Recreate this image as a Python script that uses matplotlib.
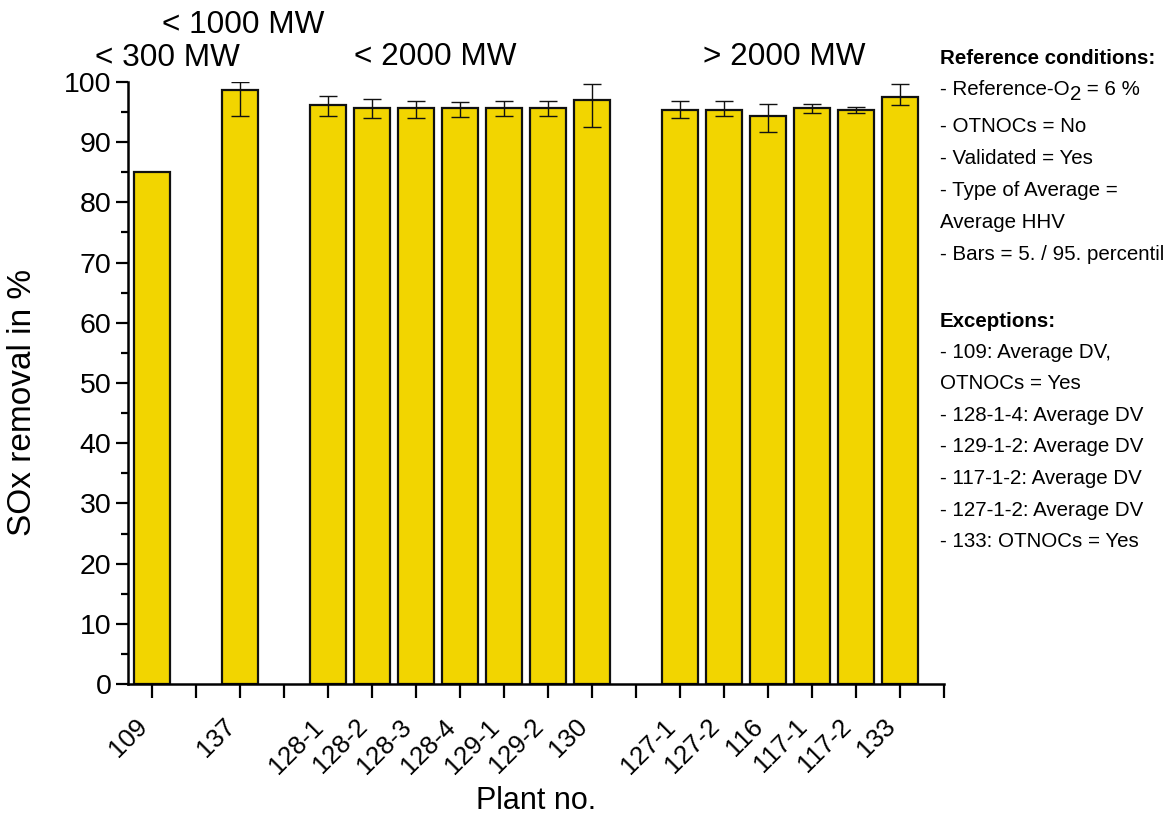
import numpy as np
import matplotlib
matplotlib.use("Agg")
import matplotlib.pyplot as plt

plt.rcParams['font.family'] = ['Liberation Sans', 'DejaVu Sans']

# Plant slots along the x axis (empty strings separate the capacity groups)
plants = ['109', '', '137', '', '128-1', '128-2', '128-3', '128-4', '129-1',
          '129-2', '130', '', '127-1', '127-2', '116', '117-1', '117-2', '133']
# Mean SOx removal in %
removal = [85.0, None, 98.7, None, 96.2, 95.6, 95.6, 95.6, 95.6,
           95.6, 97.0, None, 95.3, 95.4, 94.4, 95.6, 95.3, 97.5]
# 5th / 95th percentile
p05 = [None, None, 94.4, None, 94.3, 94.0, 94.1, 94.2, 94.3,
       94.4, 92.5, None, 94.0, 94.3, 91.7, 94.9, 94.9, 96.1]
p95 = [None, None, 100.0, None, 97.6, 97.1, 96.9, 96.7, 96.8,
       96.8, 99.6, None, 96.8, 96.8, 96.3, 96.3, 95.9, 99.6]

groups = ['< 300 MW', '< 1000 MW', '< 2000 MW', '> 2000 MW']

ref_lines = ['- OTNOCs = No', '- Validated = Yes',
             '- Type of Average =', 'Average HHV', '- Bars = 5. / 95. percentil']
exc_lines = ['- 109: Average DV,', 'OTNOCs = Yes', '- 128-1-4: Average DV',
             '- 129-1-2: Average DV', '- 117-1-2: Average DV',
             '- 127-1-2: Average DV', '- 133: OTNOCs = Yes']

W, H = 1166, 816
fig = plt.figure(figsize=(W / 100, H / 100), dpi=100)
ax = fig.add_axes([128 / W, 1 - 684 / H, (944 - 128) / W, (684 - 82) / H])

yellow = '#F2D500'
idx = [i for i, v in enumerate(removal) if v is not None]
vals = [removal[i] for i in idx]
ax.bar(idx, vals, width=0.82, color=yellow, edgecolor='#111111', linewidth=1.6, zorder=2)

eidx = [i for i in idx if p05[i] is not None]
ev = np.array([removal[i] for i in eidx])
lo = ev - np.array([p05[i] for i in eidx])
hi = np.array([p95[i] for i in eidx]) - ev
ax.errorbar(eidx, ev, yerr=[lo, hi], fmt='none', ecolor='#111111',
            elinewidth=1.0, capsize=6.5, capthick=1.0, zorder=3)

ax.set_xlim(-0.55, 18)
ax.set_ylim(0, 100)
ax.set_xticks(range(19))
ax.set_xticklabels(plants + [''], rotation=45, ha='right', fontsize=18.5)
ax.set_yticks(range(0, 101, 10))
ax.set_yticks(range(5, 100, 10), minor=True)
ax.tick_params(axis='y', labelsize=20.5, length=9, width=1.6, direction='out', pad=3)
ax.tick_params(axis='y', which='minor', length=5, width=1.6)
ax.tick_params(axis='x', length=10, width=1.6, direction='out', pad=12)
for s in ('top', 'right'):
    ax.spines[s].set_visible(False)
for s in ('left', 'bottom'):
    ax.spines[s].set_linewidth(1.8)

fig.text(23 / W, 1 - 402 / H, 'SOx removal in %', fontsize=24, rotation=90,
         ha='center', va='center')
fig.text(536 / W, 1 - 809 / H, 'Plant no.', fontsize=22, ha='center', va='baseline')

# Capacity group headings above the bars
gx = [0.34, 2.07, 6.43, 14.36]
gy = [104.0, 109.5, 104.2, 104.2]
for name, x, y in zip(groups, gx, gy):
    ax.text(x, y, name, fontsize=22.7, ha='center', va='center', clip_on=False)

# Notes on the right-hand side
def py(y):
    return 1 - y / H

fs = 14.8
x0 = 940 / W
fig.text(x0, py(58), 'Reference conditions:', fontsize=fs, fontweight='bold', va='center')

# "- Reference-O2 = 6 %" with a lowered full-size subscript
renderer = fig.canvas.get_renderer()
t1 = fig.text(x0, py(95), '- Reference-O', fontsize=fs, va='baseline')
x1 = t1.get_window_extent(renderer).x1 / W
t2 = fig.text(x1, py(100), '2', fontsize=fs, va='baseline')
x2 = t2.get_window_extent(renderer).x1 / W
fig.text(x2, py(95), ' = 6 %', fontsize=fs, va='baseline')

for k, line in enumerate(ref_lines):
    fig.text(x0, py(127 + 32 * k), line, fontsize=fs, va='center')
fig.text(x0, py(322), 'Exceptions:', fontsize=fs, fontweight='bold', va='center')
for k, line in enumerate(exc_lines):
    fig.text(x0, py(352 + 31.6 * k), line, fontsize=fs, va='center')

fig.savefig('out.png', dpi=100)
